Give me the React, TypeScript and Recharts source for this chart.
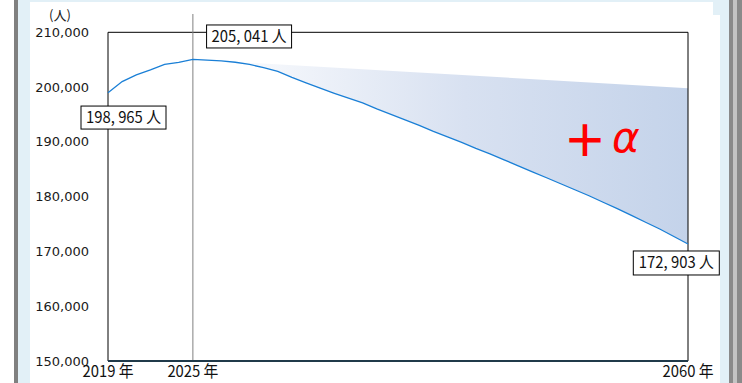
import React from 'react';
import {
  ComposedChart,
  Line,
  Area,
  XAxis,
  YAxis,
  ReferenceLine,
  ReferenceArea,
} from 'recharts';

// ---- data ----
const years = [
  2019, 2020, 2021, 2022, 2023, 2024, 2025, 2026, 2027, 2028, 2029, 2030, 2031, 2032,
  2033, 2034, 2035, 2036, 2037, 2038, 2039, 2040, 2041, 2042, 2043, 2044, 2045, 2046,
  2047, 2048, 2049, 2050, 2051, 2052, 2053, 2054, 2055, 2056, 2057, 2058, 2059, 2060,
];
const population = [
  198965, 201000, 202220, 203130, 204130, 204500, 205041, 204920, 204770, 204530,
  204130, 203550, 202860, 201760, 200760, 199790, 198850, 197970, 197110, 196020,
  195020, 194020, 193010, 191920, 190920, 189920, 188820, 187820, 186730, 185630,
  184540, 183450, 182350, 181260, 180160, 178980, 177800, 176570, 175330, 174100,
  172730, 171360,
];
// upper edge of the "+α" band
const bandYears = [2025, 2060];
const bandValues = [205041, 199800];
// callout labels
const calloutYears = [2019, 2025, 2060];
const calloutTexts = ['198, 965 人', '205, 041 人', '172, 903 人'];
const yTicks = [150000, 160000, 170000, 180000, 190000, 200000, 210000];
const xTicks = [2019, 2025, 2060];
const yUnit = '(人)';
const bandMark = '＋';
const bandAlpha = 'α';

const data = years.map((year, i) => {
  const bi = bandYears.indexOf(year);
  return {
    year,
    pop: population[i],
    popFuture: year >= bandYears[0] ? population[i] : null,
    upper: bi >= 0 ? bandValues[bi] : null,
  };
});

// callout box placement (style only)
const calloutStyle: Record<number, { dx: number; dy: number; w: number; h: number }> = {
  2019: { dx: -27, dy: 13.3, w: 85, h: 23 },
  2025: { dx: 13.7, dy: -34.5, w: 85, h: 23 },
  2060: { dx: -54.7, dy: 7, w: 86, h: 24 },
};

const CJK = '"Noto Sans CJK JP", "Noto Sans", sans-serif';

const renderDot = (props: any) => {
  const { cx, cy, payload, index } = props;
  const ci = calloutYears.indexOf(payload?.year);
  if (ci < 0) return <g key={`d-${index}`} />;
  const s = calloutStyle[payload.year];
  const x = cx + s.dx;
  const y = cy + s.dy;
  return (
    <g key={`d-${index}`}>
      <rect x={x} y={y} width={s.w} height={s.h} fill="#ffffff" stroke="#000000" strokeWidth={1} />
      <text
        x={x + s.w / 2}
        y={y + s.h / 2 + 5.5}
        textAnchor="middle"
        fontFamily={CJK}
        fontSize={16}
        fill="#111111"
        textLength={75}
        lengthAdjust="spacingAndGlyphs"
      >
        {calloutTexts[ci]}
      </text>
    </g>
  );
};

const XTick = (props: any) => {
  const { x, y, payload } = props;
  return (
    <text
      x={x}
      y={y + 14}
      textAnchor="middle"
      fontFamily={CJK}
      fontSize={16}
      fill="#111111"
      textLength={51}
      lengthAdjust="spacingAndGlyphs"
    >
      {`${payload.value} 年`}
    </text>
  );
};

export default function App() {
  return (
    <div style={{ position: 'absolute', left: 0, top: 0, width: 742, height: 383, overflow: 'hidden', background: '#ffffff' }}>
      {/* page frame */}
      <div style={{ position: 'absolute', left: 14, top: 0, width: 4, height: 383, background: '#808080' }} />
      <div style={{ position: 'absolute', left: 18, top: 0, width: 12, height: 383, background: '#e2f0f7' }} />
      <div style={{ position: 'absolute', left: 30, top: 0, width: 699, height: 2, background: '#e2f0f7' }} />
      <div style={{ position: 'absolute', left: 713, top: 0, width: 7, height: 15, background: '#e2f0f7' }} />
      <div style={{ position: 'absolute', left: 720, top: 0, width: 9, height: 383, background: '#e2f0f7' }} />
      <div style={{ position: 'absolute', left: 729, top: 0, width: 4, height: 383, background: '#8a8a8a' }} />
      <div style={{ position: 'absolute', left: 733, top: 0, width: 4, height: 383, background: '#c4c4c4' }} />
      <div style={{ position: 'absolute', left: 737, top: 0, width: 5, height: 383, background: '#8a8a8a' }} />

      <div style={{ position: 'absolute', left: 0, top: 0 }}>
        <ComposedChart
          width={742}
          height={383}
          data={data}
          margin={{ top: 14, right: 54, bottom: 0, left: 38 }}
        >
          <defs>
            <linearGradient id="alphaGrad" x1="0" y1="0" x2="1" y2="0">
              <stop offset="0%" stopColor="#ffffff" />
              <stop offset="55%" stopColor="#d8e1f1" />
              <stop offset="100%" stopColor="#c4d3ea" />
            </linearGradient>
          </defs>
          <XAxis
            dataKey="year"
            type="number"
            domain={[2019, 2060]}
            ticks={xTicks}
            interval={0}
            height={22}
            tickLine={false}
            tickSize={0}
            axisLine={{ stroke: '#203a4a', strokeWidth: 2 }}
            tick={<XTick />}
          />
          <YAxis
            type="number"
            domain={[150000, 213340]}
            ticks={yTicks}
            interval={0}
            width={70}
            axisLine={false}
            tickLine={false}
            tickSize={0}
            tickMargin={19}
            allowDataOverflow
            tick={{ fontFamily: '"DejaVu Sans", sans-serif', fontSize: 13, fill: '#1a1a1a' }}
            tickFormatter={(v: number) => v.toLocaleString('en-US')}
          />
          <Area
            dataKey="upper"
            type="linear"
            connectNulls
            stroke="none"
            fill="url(#alphaGrad)"
            fillOpacity={1}
            isAnimationActive={false}
          />
          <Area
            dataKey="popFuture"
            type="linear"
            stroke="none"
            fill="#ffffff"
            fillOpacity={1}
            isAnimationActive={false}
          />
          <ReferenceArea
            x1={2019}
            x2={2060}
            y1={150000}
            y2={210000}
            fill="none"
            stroke="#000000"
            strokeWidth={1}
            fillOpacity={0}
          />
          <ReferenceLine x={2025} stroke="#808080" strokeWidth={1} />
          <Line
            dataKey="pop"
            type="linear"
            stroke="#1a7fd6"
            strokeWidth={1.3}
            dot={renderDot}
            activeDot={false}
            isAnimationActive={false}
          />
        </ComposedChart>
      </div>

      {/* unit label */}
      <div style={{ position: 'absolute', left: 49, top: 6, fontFamily: CJK, fontSize: 13, lineHeight: '18px', color: '#222' }}>
        {yUnit}
      </div>
      {/* +α mark */}
      <div style={{ position: 'absolute', left: 563, top: 108, fontFamily: CJK, fontSize: 44, fontWeight: 700, lineHeight: '60px', color: '#ff0000' }}>
        {bandMark}
      </div>
      <div style={{ position: 'absolute', left: 612, top: 108, fontFamily: '"DejaVu Sans", sans-serif', fontStyle: 'italic', fontSize: 42, lineHeight: '60px', color: '#ff0000' }}>
        {bandAlpha}
      </div>
    </div>
  );
}
